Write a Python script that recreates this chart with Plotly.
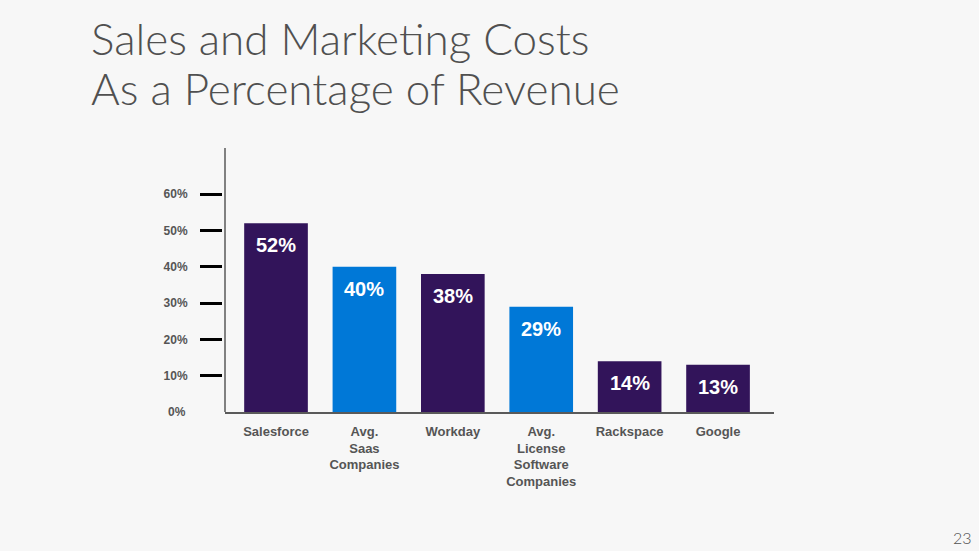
import plotly.graph_objects as go

categories = ["Salesforce", "Avg.<br>Saas<br>Companies", "Workday",
              "Avg.<br>License<br>Software<br>Companies", "Rackspace", "Google"]
values = [52, 40, 38, 29, 14, 13]
value_labels = ["52%", "40%", "38%", "29%", "14%", "13%"]
bar_colors = ["#32145a", "#0078d7", "#32145a", "#0078d7", "#32145a", "#32145a"]
tick_values = [10, 20, 30, 40, 50, 60]
tick_labels = ["10%", "20%", "30%", "40%", "50%", "60%"]

W, H = 979, 551
L, R, T, B = 222, 774, 148, 412  # plot area pixels
pw, ph = R - L, B - T

def px(x):
    return (x - L) / pw

def py(y):
    return (B - y) / ph

BG = "#f7f7f7"
GRAY = "#555555"

fig = go.Figure()
fig.add_trace(go.Bar(
    x=categories, y=values, marker=dict(color=bar_colors, line=dict(width=0)),
    width=0.72, hoverinfo="skip",
))

for c, v, t in zip(categories, values, value_labels):
    fig.add_annotation(x=c, y=v, xref="x", yref="y", text=t, showarrow=False,
                       yanchor="top", yshift=-9,
                       font=dict(family="Arial, Liberation Sans", size=20, color="white", weight="bold"))

# 0% label (no tick mark in the original)
fig.add_annotation(x=0, y=0, xref="paper", yref="y", text="0%", showarrow=False,
                   xanchor="right", yanchor="middle", xshift=-34,
                   font=dict(family="Arial, Liberation Sans", size=12, color=GRAY, weight="bold"))

# Title lines
title_font = dict(family="Lato, Open Sans, sans-serif", size=44, color="#505050", weight=300)
fig.add_annotation(x=px(89), y=py(38), xref="paper", yref="paper", text="Sales and Marketing Costs",
                   showarrow=False, xanchor="left", yanchor="middle", font=title_font)
fig.add_annotation(x=px(89), y=py(88), xref="paper", yref="paper", text="As a Percentage of Revenue",
                   showarrow=False, xanchor="left", yanchor="middle", font=title_font)
# page number
fig.add_annotation(x=px(962), y=py(537), xref="paper", yref="paper", text="23",
                   showarrow=False, xanchor="center", yanchor="middle",
                   font=dict(family="Lato, Open Sans, sans-serif", size=16, color="#505050", weight=300))

# vertical axis line
fig.add_shape(type="line", xref="x domain", yref="y domain", x0=0, x1=0, y0=0, y1=1,
              line=dict(color="#5a5a5a", width=1.5))

fig.update_layout(
    width=W, height=H,
    margin=dict(l=L, r=W - R, t=T, b=H - B, pad=0),
    paper_bgcolor=BG, plot_bgcolor=BG,
    showlegend=False, bargap=0.28,
    xaxis=dict(domain=[3 / pw, 1], range=[-0.577, 5.633], type="category",
               showgrid=False, zeroline=False, showline=True, linecolor="#5a5a5a", linewidth=2,
               ticks="", ticklabelstandoff=6,
               tickfont=dict(family="Arial, Liberation Sans", size=13, color=GRAY, weight="bold")),
    yaxis=dict(range=[0, 72.7], anchor="free", position=0, showgrid=False, zeroline=False,
               showline=False, ticks="outside", ticklen=22, tickwidth=3, tickcolor="black",
               tickvals=tick_values, ticktext=tick_labels, ticklabelstandoff=10,
               tickfont=dict(family="Arial, Liberation Sans", size=12, color=GRAY, weight="bold")),
)

fig.write_html("out.html", config={"displayModeBar": False},
               post_script="document.body.style.margin='0';document.body.style.background='%s';" % BG)
